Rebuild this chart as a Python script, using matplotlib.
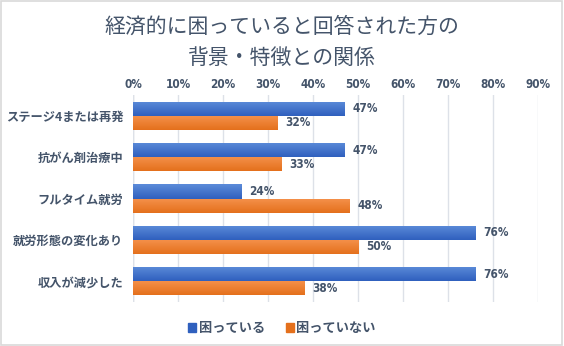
import matplotlib.pyplot as plt
import matplotlib.colors as mcolors
import numpy as np

plt.rcParams['font.family'] = ['Noto Sans CJK JP', 'DejaVu Sans']

## データ
categories = ['ステージ4または再発', '抗がん剤治療中', 'フルタイム就労', '就労形態の変化あり', '収入が減少した']
komatteiru = [47, 47, 24, 76, 76]       # 困っている (%)
komattenai = [32, 33, 48, 50, 38]       # 困っていない (%)
series_names = ['困っている', '困っていない']
xticks = [0, 10, 20, 30, 40, 50, 60, 70, 80, 90]

textColor = '#44546A'
blue = ('#5C8BD9', '#2F60BE')
orange = ('#F5924C', '#E4701C')

fig = plt.figure(figsize=(5.64, 3.46), dpi=100)
ax = fig.add_axes([0.2358, 0.1272, 0.7182, 0.5982])

## 外枠
fig.patches.append(plt.Rectangle((0.002, 0.003), 0.995, 0.994, transform=fig.transFigure,
                                 fill=False, edgecolor='#D9D9D9', linewidth=1.2))

y = np.arange(len(categories))
h = 0.34
bars1 = ax.barh(y - h / 2, komatteiru, height=h, color=blue[1])
bars2 = ax.barh(y + h / 2, komattenai, height=h, color=orange[1])

## グラデーション
def gradient(bars, cols):
    cmap = mcolors.LinearSegmentedColormap.from_list('g', [cols[0], cols[1]])
    grad = np.linspace(0, 1, 64).reshape(-1, 1)
    for b in bars:
        x0, y0, w, hh = b.get_x(), b.get_y(), b.get_width(), b.get_height()
        im = ax.imshow(grad, cmap=cmap, aspect='auto', extent=(x0, x0 + w, y0 + hh, y0),
                       origin='upper', zorder=b.get_zorder() + 0.1)
        im.set_clip_path(b)

gradient(bars1, blue)
gradient(bars2, orange)

ax.set_xlim(0, 90)
ax.set_ylim(len(categories) - 0.5, -0.5)
ax.set_aspect('auto')

numfont = dict(family='DejaVu Sans', stretch='condensed', fontweight='bold', fontsize=8.5, color=textColor)

for bars in (bars1, bars2):
    for b in bars:
        w = b.get_width()
        ax.text(w + 1.8, b.get_y() + b.get_height() / 2, '%d%%' % w, va='center', ha='left', **numfont)

ax.xaxis.tick_top()
ax.set_xticks(xticks)
ax.set_xticklabels(['%d%%' % t for t in xticks])
for lab in ax.get_xticklabels():
    lab.set_family('DejaVu Sans')
    lab.set_stretch('condensed')
    lab.set_fontweight('bold')
    lab.set_fontsize(8.5)
    lab.set_color(textColor)
ax.tick_params(axis='x', length=0, pad=3)

ax.set_yticks(y)
ax.set_yticklabels(categories, fontsize=8.8, fontweight='bold', color=textColor)
ax.tick_params(axis='y', length=0, pad=7)

ax.grid(axis='x', color='#DDE1E8', linewidth=1)
ax.set_axisbelow(True)
for s in ax.spines.values():
    s.set_visible(False)
ax.axvline(0, color='#D9D9D9', linewidth=1, zorder=0)

fig.text(0.499, 0.922, '経済的に困っていると回答された方の', ha='center', va='center',
         fontsize=15, color=textColor)
fig.text(0.499, 0.834, '背景・特徴との関係', ha='center', va='center',
         fontsize=15, color=textColor)

handles = [plt.Rectangle((0, 0), 1, 1, color=blue[1]), plt.Rectangle((0, 0), 1, 1, color=orange[1])]
fig.legend(handles, series_names, loc='center', bbox_to_anchor=(0.5, 0.052), ncol=2, frameon=False,
           handlelength=0.6, handleheight=0.6, handletextpad=0.2, columnspacing=1.6,
           prop=dict(size=9.5, weight='bold'), labelcolor=textColor)

fig.savefig('out.png', dpi=100)
